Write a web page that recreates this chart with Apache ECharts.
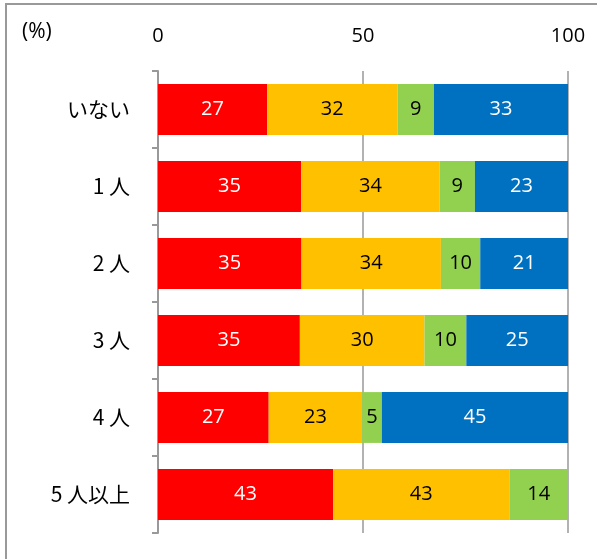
<!DOCTYPE html>
<html><head><meta charset="utf-8">
<script src="https://cdn.jsdelivr.net/npm/echarts@6/dist/echarts.min.js"></script>
<style>html,body{margin:0;padding:0;background:#fff}#c{width:597px;height:559px}</style>
</head><body><div id="c"></div>
<script>
const categories = ['いない', '1 人', '2 人', '3 人', '4 人', '5 人以上'];
const red = [26.6, 34.9, 35.0, 34.6, 27.0, 42.7];
const yellow = [31.8, 33.8, 34.0, 30.4, 22.8, 43.0];
const green = [8.9, 8.6, 9.6, 10.2, 4.8, 14.3];
const blue = [32.7, 22.7, 21.4, 24.8, 45.4, 0];
const xTicks = [0, 50, 100];

const FONT = '"Open Sans", "Noto Sans CJK JP", sans-serif';
const CJK = '"Noto Sans CJK JP", "Noto Sans", sans-serif';
function mk(name, data, color, textColor) {
  return {
    name, type: 'bar', stack: 'all', data, barWidth: '66%',
    itemStyle: { color },
    label: {
      show: true, position: 'inside', color: textColor, fontSize: 20, fontFamily: FONT,
      formatter: p => p.value > 0 ? String(Math.round(p.value)) : ''
    },
    emphasis: { disabled: true }
  };
}
const chart = echarts.init(document.getElementById('c'));
chart.setOption({
  animation: false,
  grid: { left: 158, right: 29, top: 71, bottom: 26 },
  graphic: [
    { type: 'rect', shape: { x: 6, y: 4, width: 700, height: 700 }, style: { fill: 'none', stroke: '#999', lineWidth: 2 } },
    { type: 'text', left: 22, top: 22, style: { text: '(%)', fontSize: 21, fontFamily: FONT, fill: '#000' } }
  ],
  xAxis: {
    type: 'value', position: 'top', min: xTicks[0], max: xTicks[xTicks.length - 1], interval: 50,
    axisLine: { show: false }, axisTick: { show: false },
    axisLabel: { fontSize: 20, color: '#000', fontFamily: FONT, margin: 25 },
    splitLine: { show: true, lineStyle: { color: '#999', width: 1.5 } }
  },
  yAxis: {
    type: 'category', data: categories, inverse: true,
    axisLine: { show: true, lineStyle: { color: '#999', width: 2 } },
    axisTick: { show: true, length: 6, lineStyle: { color: '#999', width: 2 } },
    axisLabel: { fontSize: 21, color: '#000', fontFamily: CJK, margin: 28 }
  },
  series: [
    mk('a', red, '#FF0000', '#fff'),
    mk('b', yellow, '#FFC000', '#000'),
    mk('c', green, '#92D050', '#000'),
    mk('d', blue, '#0070C0', '#fff')
  ]
});
</script></body></html>
